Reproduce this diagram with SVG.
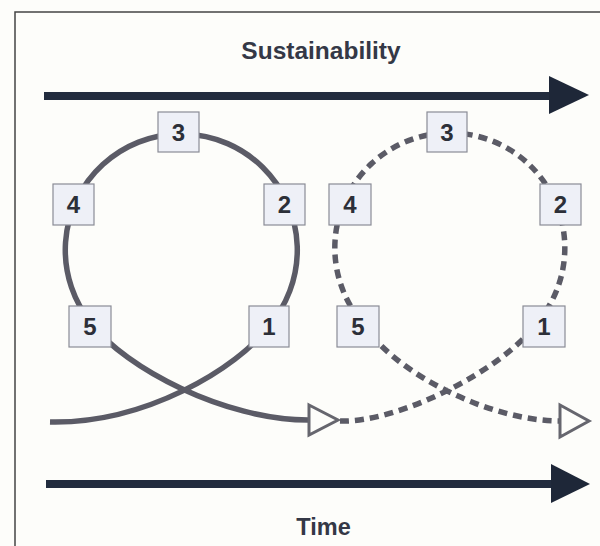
<svg xmlns="http://www.w3.org/2000/svg" width="600" height="546" viewBox="0 0 600 546">
<style>
.bg{fill:#fdfdfa}
.frame{fill:none;stroke:#444;stroke-width:1.5}
.axis{stroke:#222c3e;stroke-width:8;fill:none}
.head{fill:#1e2738}
.loop{fill:none;stroke:#5b5b66;stroke-width:5.5;stroke-linecap:butt}
.dash{stroke-dasharray:9 6}
.hollow{fill:#fdfdfa;stroke:#66666e;stroke-width:3;stroke-linejoin:miter}
.box{fill:#eef0f7;stroke:#8a8c96;stroke-width:1.2}
.num{font-family:"Liberation Sans",Arial,sans-serif;font-weight:bold;font-size:24px;fill:#2c2f38;text-anchor:middle}
.title{font-family:"Liberation Sans",Arial,sans-serif;font-weight:bold;fill:#343846;text-anchor:middle}
</style>
<rect class="bg" x="0" y="0" width="600" height="546"/>
<path class="frame" d="M15 546 V12 H600"/>
<g id="sustainability-axis">
<line class="axis" x1="44" y1="96" x2="552" y2="96"/>
<polygon class="head" points="549,76 589,95 549,114"/>
<text class="title" x="321" y="59" font-size="24.5">Sustainability</text>
</g>
<g id="time-axis">
<line class="axis" x1="46" y1="484" x2="553" y2="484"/>
<polygon class="head" points="551,464 590,484 551,503"/>
<text class="title" x="323.5" y="535" font-size="23.5">Time</text>
</g>
<g id="connectors">
<path class="loop" d="M50 422 C145 424 238 368 268 327 A116 116 0 1 0 92 324 C125 368 225 420 308 420"/>
<polygon class="hollow" points="309,405 338,420 309,435"/>
<path class="loop dash" d="M340 421 C400 423 505 368 536 324 A115 115 0 1 0 361.5 321.5 C392 372 489 421 560 421"/>
<polygon class="hollow" points="560,405 589,421 560,437"/>
</g>
<g id="loop1-n3"><rect class="box" x="158" y="112" width="41" height="40"/><text class="num" x="178.5" y="141">3</text></g>
<g id="loop1-n4"><rect class="box" x="53" y="184" width="41" height="41"/><text class="num" x="73.5" y="213">4</text></g>
<g id="loop1-n2"><rect class="box" x="264" y="184" width="41" height="41"/><text class="num" x="284.5" y="213">2</text></g>
<g id="loop1-n5"><rect class="box" x="69" y="306" width="42" height="41"/><text class="num" x="90" y="335">5</text></g>
<g id="loop1-n1"><rect class="box" x="249" y="306" width="40" height="41"/><text class="num" x="269" y="335">1</text></g>
<g id="loop2-n3"><rect class="box" x="427" y="112" width="40" height="40"/><text class="num" x="447" y="141">3</text></g>
<g id="loop2-n4"><rect class="box" x="329" y="184" width="42" height="41"/><text class="num" x="350" y="213">4</text></g>
<g id="loop2-n2"><rect class="box" x="540" y="184" width="41" height="41"/><text class="num" x="560.5" y="213">2</text></g>
<g id="loop2-n5"><rect class="box" x="337" y="306" width="42" height="41"/><text class="num" x="358" y="335">5</text></g>
<g id="loop2-n1"><rect class="box" x="523" y="306" width="42" height="41"/><text class="num" x="544" y="335">1</text></g>
</svg>
